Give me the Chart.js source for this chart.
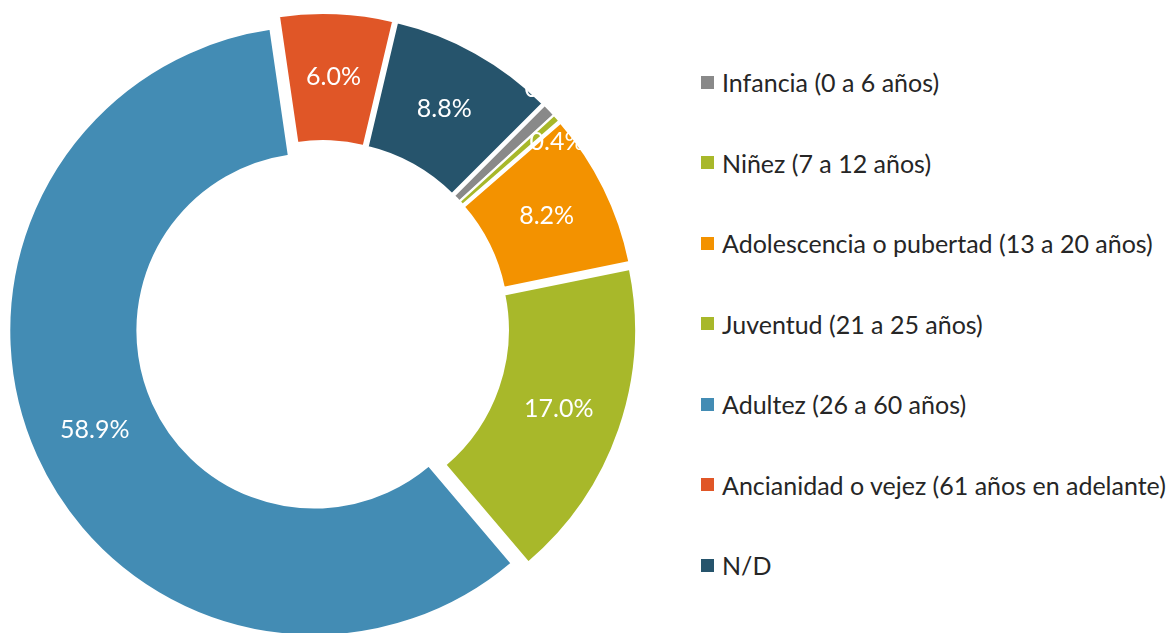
<!DOCTYPE html>
<html lang="es">
<head>
<meta charset="utf-8">
<script src="https://cdn.jsdelivr.net/npm/chart.js"></script>
<style>
  html, body { margin: 0; padding: 0; background: #fff; }
  body { width: 1175px; height: 633px; position: relative; overflow: hidden; font-family: Lato, "Open Sans", sans-serif; }
  #wrap { position: absolute; left: 0; top: 0; width: 645px; height: 633px; }
  #legend { position: absolute; left: 701px; top: 42px; margin: 0; padding: 0; list-style: none; }
  #legend li { height: 80.5px; display: flex; align-items: center; font-size: 25px; color: #262626; white-space: nowrap; }
  #legend .box { width: 13px; height: 13px; margin-right: 8px; flex: none; }
</style>
</head>
<body>
<div id="wrap"><canvas id="edadPie"></canvas></div>
<ul id="legend"></ul>
<script>
var categorias = [
    'Infancia (0 a 6 años)',
    'Niñez (7 a 12 años)',
    'Adolescencia o pubertad (13 a 20 años)',
    'Juventud (21 a 25 años)',
    'Adultez (26 a 60 años)',
    'Ancianidad o vejez (61 años en adelante)',
    'N/D'
];
var porcentajes = [0.7, 0.4, 8.2, 17.0, 58.9, 6.0, 8.8];
var colores = ['#898989', '#A8B82A', '#F39200', '#A8B82A', '#438CB4', '#E05627', '#26546C'];

// pushes every slice out from the centre, like an exploded Excel doughnut
var explodePlugin = {
    id: 'explode',
    afterDatasetUpdate: function (chart, args, opts) {
        var meta = chart.getDatasetMeta(args.index);
        meta.data.forEach(function (arc) {
            var mid = (arc.startAngle + arc.endAngle) / 2;
            arc.x += Math.cos(mid) * opts.distance;
            arc.y += Math.sin(mid) * opts.distance;
        });
    }
};

var labelPlugin = {
    id: 'sliceLabels',
    afterDatasetsDraw: function (chart, args, opts) {
        var ctx = chart.ctx;
        var meta = chart.getDatasetMeta(0);
        ctx.save();
        ctx.font = opts.font;
        ctx.fillStyle = '#ffffff';
        ctx.textAlign = 'center';
        ctx.textBaseline = 'middle';
        meta.data.forEach(function (arc, i) {
            var mid = (arc.startAngle + arc.endAngle) / 2;
            var r = (arc.innerRadius + arc.outerRadius) / 2;
            var nudge = opts.nudge[i] || [0, 0];
            ctx.fillText(porcentajes[i].toFixed(1) + '%',
                arc.x + Math.cos(mid) * r + nudge[0],
                arc.y + Math.sin(mid) * r + nudge[1]);
        });
        ctx.restore();
    }
};

var ctx = document.getElementById('edadPie').getContext('2d');
var myChart = new Chart(ctx, {
    type: 'doughnut',
    data: {
        labels: categorias,
        datasets: [{
            data: porcentajes,
            backgroundColor: colores,
            borderColor: '#ffffff',
            borderWidth: 2
        }]
    },
    options: {
        responsive: true,
        maintainAspectRatio: false,
        animation: false,
        events: [],
        rotation: 45,
        cutout: '58%',
        radius: 305,
        layout: { padding: { top: 21 } },
        plugins: {
            legend: { display: false },
            tooltip: { enabled: false },
            explode: { distance: 9 },
            sliceLabels: {
                font: '25px Lato, "Open Sans", sans-serif',
                nudge: { 0: [49, -65], 1: [48, -19] }
            }
        }
    },
    plugins: [explodePlugin, labelPlugin]
});

// legend built from the same arrays
var legend = document.getElementById('legend');
categorias.forEach(function (name, i) {
    var li = document.createElement('li');
    var box = document.createElement('span');
    box.className = 'box';
    box.style.background = colores[i];
    li.appendChild(box);
    li.appendChild(document.createTextNode(name));
    legend.appendChild(li);
});
</script>
</body>
</html>
